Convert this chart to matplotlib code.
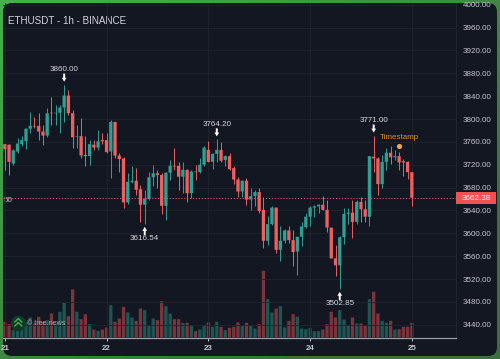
import matplotlib
matplotlib.use('Agg')
import matplotlib.pyplot as plt
import numpy as np
from matplotlib.colors import LinearSegmentedColormap
from matplotlib.patches import FancyBboxPatch, Rectangle

plt.rcParams['font.family'] = ['Liberation Sans', 'DejaVu Sans']

# hourly candles
opens = [3756, 3755, 3722, 3743, 3756, 3761, 3783, 3788, 3788, 3778, 3771, 3811, 3810, 3811, 3820, 3841, 3810, 3769, 3770, 3737,
         3735, 3755, 3750, 3763, 3763, 3743, 3795, 3736, 3731, 3654, 3690, 3692, 3677, 3650, 3660, 3698, 3705, 3702, 3648, 3706,
         3718, 3718, 3699, 3711, 3670, 3708, 3707, 3720, 3746, 3725, 3739, 3746, 3728, 3735, 3714, 3694, 3673, 3692, 3659, 3665,
         3672, 3641, 3587, 3616, 3645, 3571, 3587, 3605, 3588, 3568, 3594, 3611, 3629, 3645, 3647, 3650, 3641, 3610, 3556, 3544,
         3593, 3634, 3636, 3620, 3655, 3642, 3629, 3734, 3731, 3686, 3725, 3741, 3733, 3735, 3726, 3725, 3707]
highs = [3757, 3757, 3747, 3766, 3770, 3784, 3813, 3804, 3810, 3790, 3819, 3838, 3825, 3825, 3860, 3851, 3815, 3790, 3801, 3770,
         3763, 3763, 3780, 3776, 3775, 3798, 3795, 3740, 3734, 3705, 3718, 3715, 3684, 3676, 3708, 3720, 3711, 3705, 3707, 3728,
         3750, 3725, 3724, 3712, 3711, 3720, 3731, 3752, 3761, 3740, 3764.2, 3759, 3737, 3740, 3717, 3699, 3693, 3696, 3680, 3676,
         3679, 3664, 3630, 3647, 3645, 3612, 3607, 3612, 3606, 3594, 3620, 3635, 3648, 3650, 3652, 3665, 3658, 3610, 3579, 3595,
         3644, 3644, 3658, 3659, 3663, 3658, 3735, 3771, 3734, 3737, 3750, 3753, 3746, 3743, 3730, 3727, 3707]
lows = [3711, 3702, 3720, 3741, 3752, 3747, 3775, 3784, 3763, 3755, 3768, 3790, 3790, 3775, 3795, 3807, 3749, 3749, 3731, 3718,
        3720, 3745, 3746, 3757, 3740, 3696, 3731, 3708, 3645, 3652, 3688, 3667, 3619, 3616.54, 3658, 3683, 3679, 3634, 3624, 3693,
        3711, 3676, 3670, 3654, 3661, 3694, 3705, 3717, 3724, 3712, 3725, 3724, 3717, 3711, 3687, 3663, 3664, 3649, 3641, 3647,
        3635, 3574, 3580, 3614, 3566, 3552, 3583, 3583, 3543, 3527, 3578, 3609, 3612, 3629, 3635, 3640, 3603, 3556, 3526, 3502.85,
        3581, 3617, 3591, 3617, 3619, 3620, 3613, 3708, 3667, 3680, 3711, 3721, 3728, 3710, 3701, 3695, 3647]
closes = [3747, 3725, 3745, 3757, 3763, 3783, 3788, 3787, 3778, 3771, 3810, 3810, 3811, 3820, 3841, 3810, 3768, 3770, 3736, 3735,
          3756, 3750, 3761, 3761, 3742, 3795, 3736, 3730, 3654, 3690, 3692, 3676, 3650, 3660, 3698, 3705, 3702, 3648, 3706, 3718,
          3717, 3699, 3711, 3670, 3708, 3707, 3720, 3750, 3725, 3739, 3746, 3727, 3735, 3712, 3694, 3673, 3692, 3659, 3665, 3672,
          3639, 3587, 3616, 3645, 3571, 3587, 3605, 3588, 3567, 3594, 3612, 3629, 3645, 3647, 3650, 3641, 3610, 3556, 3544, 3593,
          3634, 3636, 3620, 3655, 3642, 3629, 3735, 3731, 3686, 3725, 3741, 3733, 3735, 3724, 3724, 3707, 3662.38]
# volume has no scale in the picture, these are relative heights
volumes = [47, 40, 22, 22, 27, 47, 60, 42, 62, 47, 52, 72, 42, 77, 104, 64, 144, 77, 55, 70,
           40, 24, 20, 24, 30, 97, 47, 57, 92, 75, 60, 50, 87, 82, 37, 57, 52, 109, 94, 72,
           55, 55, 44, 44, 37, 19, 24, 37, 45, 32, 47, 32, 22, 29, 32, 45, 35, 44, 37, 27,
           40, 200, 115, 75, 87, 94, 30, 50, 70, 62, 27, 25, 29, 19, 19, 24, 40, 77, 60, 82,
           54, 37, 60, 42, 42, 37, 115, 137, 72, 50, 44, 50, 24, 25, 32, 32, 44]

price_ticks = list(range(3440, 4001, 40))
day_positions = [0, 24, 48, 72, 96]
day_labels = ['21', '22', '23', '24', '25']
last_price = 3662.38

# (candle, price, label, 1 above / -1 below)
marks = [(14, 3860.00, '3860.00', 1), (33, 3616.54, '3616.54', -1), (50, 3764.20, '3764.20', 1),
         (87, 3771.00, '3771.00', 1), (79, 3502.85, '3502.85', -1)]

UP = '#2f9f94'
DOWN = '#ee5f60'
UP_VOL = '#1d5653'
DOWN_VOL = '#7a353c'
TEXT = '#c4c7ce'
PANEL = '#131722'
GRID = '#1f232e'

fig = plt.figure(figsize=(5.0, 3.59), dpi=100)

# green frame and dark rounded panel, in pixel coordinates
bg = fig.add_axes([0, 0, 1, 1])
bg.set_xlim(0, 500)
bg.set_ylim(359, 0)
bg.axis('off')
frame = LinearSegmentedColormap.from_list('frame', ['#45b04e', '#3f8f45', '#3a6f3f'])
yy, xx = np.mgrid[0:1:60j, 0:1:60j]
bg.imshow(xx * 0.6 + yy * 0.6, cmap=frame, extent=[0, 500, 359, 0], aspect='auto', vmin=0, vmax=1)
bg.add_patch(FancyBboxPatch((3, 3), 494, 353, boxstyle='round,pad=0,rounding_size=9', fc=PANEL, ec='none'))

# main axes
ax = fig.add_axes([3 / 500, 1 - 337.5 / 359, 453 / 500, 334.5 / 359])
ax.patch.set_visible(False)
ax.set_xlim((3 - 4.8) / 4.24, (456 - 4.8) / 4.24)
ax.set_ylim(3800 - 218.5 * 1.75, 3800 + 116 * 1.75)

xs = np.arange(len(closes))
up = np.array(closes) >= np.array(opens)

# volume under the candles
vol_ax = ax.twinx()
vol_ax.set_zorder(2)
vol_ax.set_ylim(0, 334.5 * 3)
vol_ax.bar(xs, volumes, 0.78, color=[UP_VOL if u else DOWN_VOL for u in up], snap=False)
vol_ax.axis('off')

ax.set_zorder(4)
ax.vlines(xs, lows, highs, color=[UP if u else DOWN for u in up], lw=0.7, zorder=3)
ax.bar(xs, np.abs(np.array(closes) - np.array(opens)), 0.78, bottom=np.minimum(opens, closes),
       color=[UP if u else DOWN for u in up], zorder=4, snap=False)

ax.set_yticks(price_ticks)
ax.set_yticklabels(['%.2f' % p for p in price_ticks])
ax.set_xticks(day_positions)
ax.set_xticklabels(day_labels)
ax.yaxis.tick_right()
ax.tick_params(axis='y', length=0, pad=5, labelsize=5.8, labelcolor=TEXT)
ax.tick_params(axis='x', length=2, width=0.7, color='#c8c8cc', pad=3.5, labelsize=5.8, labelcolor=TEXT)
for lab in ax.get_xticklabels():
    lab.set_fontweight('bold')
ax.grid(True, color=GRID, lw=0.6)
ax.set_axisbelow(True)
for name in ['top', 'left']:
    ax.spines[name].set_visible(False)
ax.spines['bottom'].set_color('#9a9ca5')
ax.spines['bottom'].set_linewidth(0.9)
ax.spines['right'].set_color('#232732')
ax.spines['right'].set_linewidth(0.6)

# last price line and box
ax.axhline(last_price, color='#e8716f', lw=0.7, ls=(0, (1, 2)), zorder=2)
fig.patches.append(Rectangle((456 / 500, 1 - 204.5 / 359), 40 / 500, 12.5 / 359, transform=fig.transFigure,
                             fc='#ef5350', ec='none', zorder=10))
fig.text(476 / 500, 1 - 198.2 / 359, '%.2f' % last_price, color='#f4f4f4', fontsize=5.8, ha='center', va='center', zorder=20)
fig.text(3.5 / 500, 1 - 201 / 359, '50', color=TEXT, fontsize=5.8, ha='left', va='center')

# high / low marks
arrow = 'simple,head_length=0.28,head_width=0.34,tail_width=0.14'
for i, price, label, side in marks:
    ax.annotate('', xy=(i, price), xytext=(0, side * 8), textcoords='offset points',
                arrowprops=dict(arrowstyle=arrow, color='white', lw=0, shrinkA=0, shrinkB=2.2), zorder=6)
    ax.annotate(label, xy=(i, price), xytext=(0, side * 10.8), textcoords='offset points',
                color='#d6d8dd', fontsize=5.8, ha='center', va='center', zorder=6)

# timestamp dot
ax.scatter([93], [3752.5], s=14, color='#f0a93b', lw=0, zorder=6)
ax.annotate('Timestamp', xy=(93, 3752.5), xytext=(0, 6.2), textcoords='offset points',
            color='#d9912f', fontsize=5.8, ha='center', va='center', zorder=6)

fig.text(8 / 500, 1 - 21 / 359, 'ETHUSDT - 1h - BINANCE', color='#d1d4dc', fontsize=7.15, ha='left', va='center')

# tree.news watermark
logo = fig.add_axes([0, 0, 1, 1], zorder=8)
logo.set_xlim(0, 500)
logo.set_ylim(359, 0)
logo.axis('off')
logo.scatter([18.3], [322.7], s=125, color='#0f3a26', lw=0)
logo.plot([14.8, 18.3, 21.8], [322, 318.5, 322], color='#3fbf5f', lw=0.9)
logo.plot([14.8, 18.3, 21.8], [326, 322.5, 326], color='#3fbf5f', lw=0.9)
logo.text(27, 323.5, '© tree.news', color='#a2a8ad', fontsize=5.1, ha='left', va='center')

plt.savefig('out.png', dpi=100)
plt.close()
